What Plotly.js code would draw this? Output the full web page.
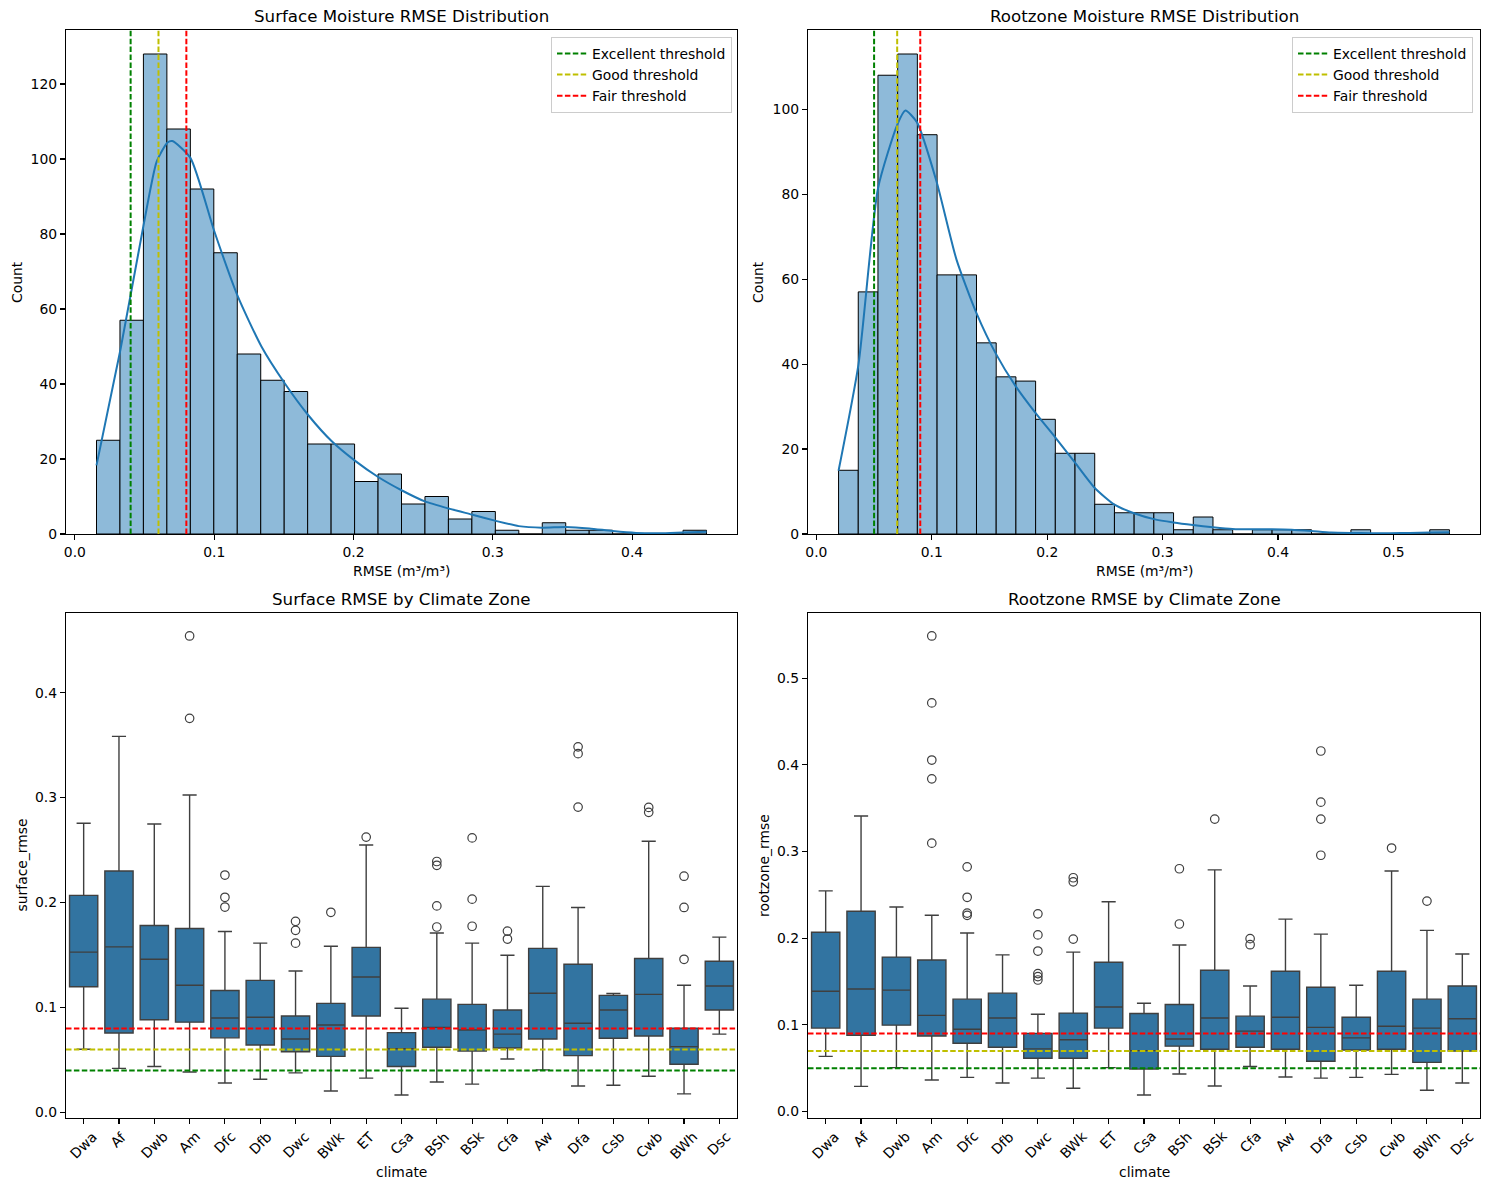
<!DOCTYPE html>
<html><head><meta charset="utf-8">
<script src="https://cdn.plot.ly/plotly-3.0.1.min.js"></script>
<style>html,body{margin:0;padding:0;background:#fff}#chart{width:1489px;height:1189px}</style>
</head><body><div id="chart"></div>
<script>
// ---------------- DATA ----------------
const surfBinStart = 0.0155;
const surfBinWidth = 0.016842;
const surfCounts = [25,57,128,108,92,75,48,41,38,24,24,14,16,8,10,4,6,1,0,3,1,1,0,0,0,1];

const rootBinStart = 0.0192;
const rootBinWidth = 0.017075;
const rootCounts = [15,57,108,113,94,61,61,45,37,36,27,19,19,7,5,5,5,1,4,1,0,1,1,1,0,0,1,0,0,0,1];

const surfKdeX = [0.0155,0.0326,0.0491,0.0587,0.0665,0.0699,0.0829,0.1000,0.1168,0.1339,0.1506,0.1677,0.1842,0.2012,0.2177,0.2348,0.2512,0.2683,0.2848,0.3022,0.3186,0.3354,0.3525,0.3693,0.3860,0.4028,0.4196,0.4363,0.4534];
const surfKdeY = [18.3,49,82,99.3,104.4,104.8,100.3,80.8,63.5,50,40.2,31.6,24.8,19.5,15.2,11.6,8.7,6.8,5.2,3.5,2.1,1.7,1.9,1.5,0.8,0.3,0.2,0.4,0.6];

const rootKdeX = [0.0192,0.0365,0.0534,0.0703,0.0771,0.0872,0.1041,0.1214,0.1387,0.1556,0.1726,0.1898,0.2071,0.2241,0.2410,0.2583,0.2752,0.2925,0.3094,0.3263,0.3436,0.3605,0.3774,0.3947,0.4117,0.4289,0.4459,0.4632,0.4801,0.4974,0.5143,0.5312,0.5485];
const rootKdeY = [14.9,40,81.4,96.5,99.7,96.9,83,64.6,52,42.4,34.8,28.5,22.7,16.8,10.9,6.9,4.9,3.5,2.7,2.1,1.6,1.2,1.1,1.1,1.0,0.7,0.35,0.25,0.2,0.2,0.25,0.35,0.4];

const thresholdNames = ['Excellent threshold','Good threshold','Fair threshold'];
const surfThresholds = [0.04, 0.06, 0.08];
const rootThresholds = [0.05, 0.07, 0.09];

const climates = ['Dwa','Af','Dwb','Am','Dfc','Dfb','Dwc','BWk','ET','Csa','BSh','BSk','Cfa','Aw','Dfa','Csb','Cwb','BWh','Dsc'];

const surfQ1  = [0.1197,0.0756,0.0882,0.0860,0.0710,0.0642,0.0577,0.0534,0.0918,0.0437,0.0620,0.0584,0.0613,0.0699,0.0541,0.0706,0.0728,0.0459,0.0975];
const surfMed = [0.1527,0.1577,0.1459,0.1211,0.0900,0.0907,0.0699,0.0832,0.1290,0.0606,0.0810,0.0785,0.0746,0.1136,0.0849,0.0975,0.1125,0.0627,0.1204];
const surfQ3  = [0.2068,0.2301,0.1781,0.1753,0.1161,0.1258,0.0918,0.1039,0.1573,0.0760,0.1079,0.1029,0.0975,0.1563,0.1412,0.1115,0.1466,0.0803,0.1441];
const surfLo  = [0.0602,0.0419,0.0437,0.0384,0.0280,0.0315,0.0376,0.0204,0.0326,0.0165,0.0290,0.0269,0.0509,0.0405,0.0251,0.0258,0.0344,0.0176,0.0746];
const surfHi  = [0.2756,0.3584,0.2749,0.3025,0.1724,0.1613,0.1348,0.1584,0.2548,0.0993,0.1710,0.1613,0.1498,0.2154,0.1953,0.1133,0.2584,0.1211,0.1670];
const surfOutCat = ['Am','Am','Dfc','Dfc','Dfc','Dwc','Dwc','Dwc','BWk','ET','BSh','BSh','BSh','BSh','BSk','BSk','BSk','Cfa','Cfa','Dfa','Dfa','Dfa','Cwb','Cwb','BWh','BWh','BWh'];
const surfOutVal = [0.4541,0.3756,0.2262,0.2050,0.1957,0.1821,0.1735,0.1613,0.1907,0.2624,0.2391,0.2355,0.1968,0.1767,0.2616,0.2032,0.1774,0.1728,0.1652,0.3484,0.3419,0.2910,0.2907,0.2860,0.2251,0.1953,0.1459];

const rootQ1  = [0.0963,0.0880,0.0997,0.0872,0.0789,0.0742,0.0616,0.0616,0.0963,0.0490,0.0755,0.0720,0.0742,0.0720,0.0581,0.0711,0.0720,0.0568,0.0698];
const rootMed = [0.1388,0.1414,0.1401,0.1110,0.0950,0.1080,0.0724,0.0828,0.1206,0.0703,0.0837,0.1080,0.0928,0.1088,0.0971,0.0850,0.0984,0.0963,0.1071];
const rootQ3  = [0.2069,0.2311,0.1782,0.1748,0.1297,0.1366,0.0902,0.1136,0.1722,0.1132,0.1236,0.1631,0.1101,0.1618,0.1435,0.1088,0.1618,0.1297,0.1448];
const rootLo  = [0.0637,0.0291,0.0507,0.0364,0.0395,0.0330,0.0386,0.0269,0.0507,0.0191,0.0434,0.0295,0.0520,0.0399,0.0386,0.0395,0.0429,0.0247,0.0330];
const rootHi  = [0.2546,0.3409,0.2359,0.2264,0.2060,0.1808,0.1123,0.1839,0.2420,0.1249,0.1921,0.2788,0.1448,0.2220,0.2047,0.1457,0.2775,0.2090,0.1817];
const rootOutCat = ['Am','Am','Am','Am','Am','Dfc','Dfc','Dfc','Dfc','Dwc','Dwc','Dwc','Dwc','Dwc','Dwc','BWk','BWk','BWk','BSh','BSh','BSk','Cfa','Cfa','Dfa','Dfa','Dfa','Dfa','Cwb','BWh'];
const rootOutVal = [0.5486,0.4714,0.4055,0.3838,0.3096,0.2823,0.2472,0.2290,0.2264,0.2281,0.2038,0.1852,0.1592,0.1557,0.1518,0.2697,0.2650,0.1990,0.2801,0.2164,0.3374,0.1995,0.1925,0.4159,0.3569,0.3374,0.2957,0.3040,0.2428];

// ---------------- STYLE ----------------
const F = 'DejaVu Sans';
const TICK = 13.9, TITLE = 16.67;
const thrColors = ['#008000', '#bfbf00', '#ff0000'];
const DASH = '5.5px,2.4px';
const W = 1489, H = 1189;
const xDomL = [66/W, 737/W], xDomR = [808/W, 1480/W];
const yDomT = [1-534/H, 1-30/H], yDomB = [1-1118/H, 1-613/H];

function centers(start, width, n){ const a=[]; for(let i=0;i<n;i++) a.push(start+(i+0.5)*width); return a; }
function padRange(lo, hi){ const p=(hi-lo)*0.05; return [lo-p, hi+p]; }

const traces = [];
function addHist(counts, start, width, kx, ky, thr, xa, ya, legendId){
  traces.push({type:'bar', x:centers(start,width,counts.length), y:counts, width:counts.map(()=>width),
    xaxis:xa, yaxis:ya, marker:{color:'#8ebad9', line:{color:'#000000', width:1}}, showlegend:false, hoverinfo:'x+y'});
  traces.push({type:'scatter', mode:'lines', x:kx, y:ky, xaxis:xa, yaxis:ya,
    line:{color:'#1f77b4', width:2, shape:'spline', smoothing:0.6}, showlegend:false});
  const top = Math.max(...counts)*1.05;
  thr.forEach((t,i)=>{
    traces.push({type:'scatter', mode:'lines', x:[t,t], y:[0,top], xaxis:xa, yaxis:ya, name:thresholdNames[i],
      legend:legendId, line:{color:thrColors[i], width:2, dash:DASH}, showlegend:true});
  });
  return top;
}
const surfTop = addHist(surfCounts, surfBinStart, surfBinWidth, surfKdeX, surfKdeY, surfThresholds, 'x', 'y', 'legend');
const rootTop = addHist(rootCounts, rootBinStart, rootBinWidth, rootKdeX, rootKdeY, rootThresholds, 'x2', 'y2', 'legend2');

function addBox(q1, med, q3, lo, hi, oc, ov, xa, ya){
  traces.push({type:'box', x:climates, q1:q1, median:med, q3:q3, lowerfence:lo, upperfence:hi,
    xaxis:xa, yaxis:ya, width:0.8, fillcolor:'#3274a1', line:{color:'#3f3f3f', width:1.4}, whiskerwidth:0.5,
    boxpoints:false, showlegend:false});
  traces.push({type:'scatter', mode:'markers', x:oc, y:ov, xaxis:xa, yaxis:ya, showlegend:false,
    marker:{symbol:'circle-open', size:8.5, color:'#3f3f3f', line:{width:1.2, color:'#3f3f3f'}}});
}
addBox(surfQ1, surfMed, surfQ3, surfLo, surfHi, surfOutCat, surfOutVal, 'x3', 'y3');
addBox(rootQ1, rootMed, rootQ3, rootLo, rootHi, rootOutCat, rootOutVal, 'x4', 'y4');

function ax(extra){
  return Object.assign({showline:true, mirror:true, linecolor:'black', linewidth:1.1, ticks:'outside', ticklen:5,
    tickwidth:1.1, tickcolor:'black', showgrid:false, zeroline:false,
    tickfont:{family:F, size:TICK, color:'black'}}, extra);
}

const surfAll = surfLo.concat(surfOutVal, surfHi);
const rootAll = rootLo.concat(rootOutVal, rootHi);

const shapes = [];
function hLines(thr, xa, ya){
  thr.forEach((t,i)=>shapes.push({type:'line', xref:xa+' domain', x0:0, x1:1, yref:ya, y0:t, y1:t,
    line:{color:thrColors[i], width:2, dash:DASH}, layer:'above'}));
}
hLines(surfThresholds, 'x3', 'y3');
hLines(rootThresholds, 'x4', 'y4');

const ann = [];
function txt(text, x, y, opts){ ann.push(Object.assign({text:text, x:x, y:y, xref:'paper', yref:'paper', showarrow:false,
  xanchor:'center', yanchor:'middle', font:{family:F, size:TICK, color:'black'}}, opts||{})); }
const midL = (xDomL[0]+xDomL[1])/2, midR = (xDomR[0]+xDomR[1])/2;
const midT = (yDomT[0]+yDomT[1])/2, midB = (yDomB[0]+yDomB[1])/2;
txt('Surface Moisture RMSE Distribution', midL, 1-16.5/H, {font:{family:F, size:TITLE, color:'black'}});
txt('Rootzone Moisture RMSE Distribution', midR, 1-16.5/H, {font:{family:F, size:TITLE, color:'black'}});
txt('Surface RMSE by Climate Zone', midL, 1-599/H, {font:{family:F, size:TITLE, color:'black'}});
txt('Rootzone RMSE by Climate Zone', midR, 1-599/H, {font:{family:F, size:TITLE, color:'black'}});
txt('RMSE (m³/m³)', midL, 1-571/H);
txt('RMSE (m³/m³)', midR, 1-571/H);
txt('climate', midL, 1-1172/H);
txt('climate', midR, 1-1172/H);
txt('Count', 17/W, midT, {textangle:-90});
txt('Count', 758/W, midT, {textangle:-90});
txt('surface_rmse', 21/W, midB, {textangle:-90});
txt('rootzone_rmse', 763.5/W, midB, {textangle:-90});
['x3','x4'].forEach(xa=>{
  climates.forEach(c=>ann.push({text:c, x:c, xref:xa, y:1-1127/H, yref:'paper', showarrow:false,
    xanchor:'center', yanchor:'top', textangle:-45, borderpad:0, font:{family:F, size:TICK, color:'black'}}));
});

const legendStyle = {y:1-37/H, yanchor:'top', xanchor:'right', bgcolor:'rgba(255,255,255,0.8)', bordercolor:'#cccccc',
  borderwidth:1, font:{family:F, size:TICK, color:'black'}, itemwidth:30, tracegroupgap:0};

const layout = {
  width:W, height:H, margin:{l:0, r:0, t:0, b:0}, paper_bgcolor:'white', plot_bgcolor:'white',
  font:{family:F, color:'black'}, boxgap:0.2, boxgroupgap:0, bargap:0,
  xaxis: ax({domain:xDomL, anchor:'y', range:padRange(surfBinStart, surfBinStart+surfBinWidth*surfCounts.length), dtick:0.1, tickformat:'.1f'}),
  yaxis: ax({domain:yDomT, anchor:'x', range:[0, surfTop], dtick:20}),
  xaxis2: ax({domain:xDomR, anchor:'y2', range:padRange(rootBinStart, rootBinStart+rootBinWidth*rootCounts.length), dtick:0.1, tickformat:'.1f'}),
  yaxis2: ax({domain:yDomT, anchor:'x2', range:[0, rootTop], dtick:20}),
  xaxis3: ax({domain:xDomL, anchor:'y3', type:'category', categoryorder:'array', categoryarray:climates, range:[-0.5, climates.length-0.5], showticklabels:false}),
  yaxis3: ax({domain:yDomB, anchor:'x3', range:padRange(Math.min(...surfAll), Math.max(...surfAll)), dtick:0.1, tickformat:'.1f'}),
  xaxis4: ax({domain:xDomR, anchor:'y4', type:'category', categoryorder:'array', categoryarray:climates, range:[-0.5, climates.length-0.5], showticklabels:false}),
  yaxis4: ax({domain:yDomB, anchor:'x4', range:padRange(Math.min(...rootAll), Math.max(...rootAll)), dtick:0.1, tickformat:'.1f'}),
  legend: Object.assign({x:732/W}, legendStyle),
  legend2: Object.assign({x:1473/W}, legendStyle),
  shapes: shapes,
  annotations: ann,
  showlegend: true
};

Plotly.newPlot('chart', traces, layout, {staticPlot:true, displayModeBar:false});
</script>
</body></html>
